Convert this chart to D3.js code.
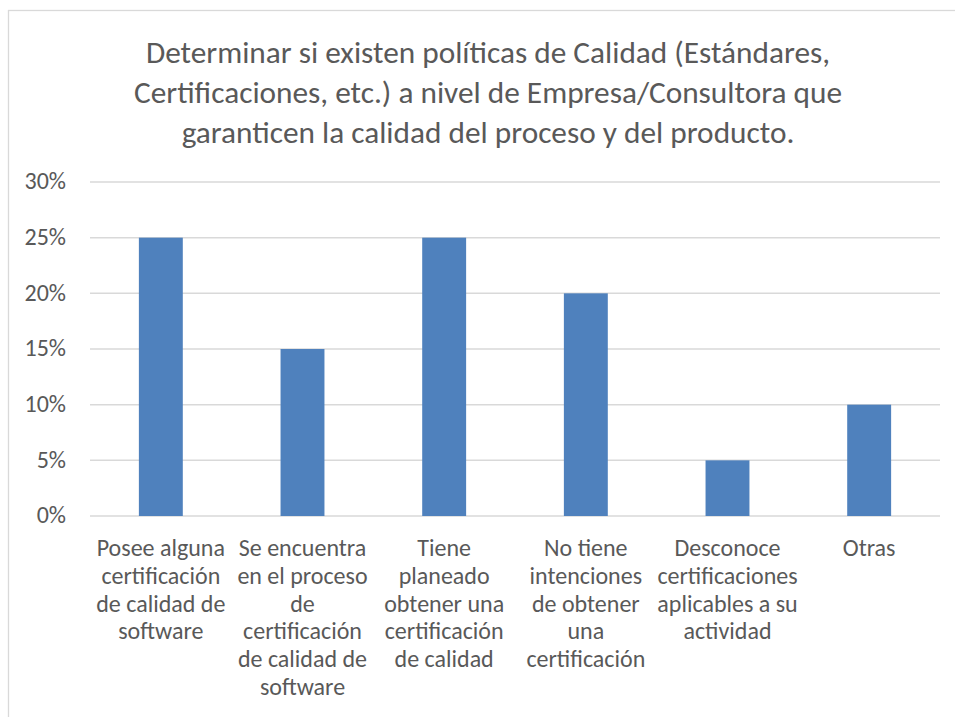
<!DOCTYPE html>
<html>
<head>
<meta charset="utf-8">
<script src="https://cdn.jsdelivr.net/npm/d3@7"></script>
<style>
  body { margin: 0; background: #fff; overflow: hidden; }
  text { font-family: Carlito, Calibri, Lato, sans-serif; fill: #595959; }
</style>
</head>
<body>
<div id="chart"></div>
<script>
// data
let categories = [
    ["Posee alguna", "certificación", "de calidad de", "software"],
    ["Se encuentra", "en el proceso", "de", "certificación", "de calidad de", "software"],
    ["Tiene", "planeado", "obtener una", "certificación", "de calidad"],
    ["No tiene", "intenciones", "de obtener", "una", "certificación"],
    ["Desconoce", "certificaciones", "aplicables a su", "actividad"],
    ["Otras"]
];
let values = [0.25, 0.15, 0.25, 0.20, 0.05, 0.10];
let yTicks = [0, 0.05, 0.10, 0.15, 0.20, 0.25, 0.30];
let titleLines = [
    "Determinar si existen políticas de Calidad (Estándares,",
    "Certificaciones, etc.) a nivel de Empresa/Consultora que",
    "garanticen la calidad del proceso y del producto."
];

let width = 955, height = 717;
let margin = {left: 90, right: 15, top: 182, bottom: 201};

let svg = d3.select("#chart")
    .append("svg")
    .attr("width", width)
    .attr("height", height)
    .style("display", "block");

// chart frame (runs off the right and bottom of the picture)
svg.append("rect")
    .attr("x", 8.5)
    .attr("y", 10.5)
    .attr("width", 980)
    .attr("height", 740)
    .attr("fill", "none")
    .attr("stroke", "#d9d9d9")
    .attr("stroke-width", 1.3);

svg.append("text")
    .attr("text-anchor", "middle")
    .style("font-size", "31.3px")
    .selectAll("tspan")
    .data(titleLines)
    .enter()
    .append("tspan")
    .attr("x", 488)
    .attr("y", (d, i) => 63 + i * 40)
    .text(d => d);

let x = d3.scaleBand()
    .domain(d3.range(categories.length))
    .range([margin.left, width - margin.right])
    .paddingInner(0.69)
    .paddingOuter(0.345);

let y = d3.scaleLinear()
    .domain([0, 0.30])
    .range([height - margin.bottom, margin.top]);

// gridlines
svg.append("g")
    .selectAll("line")
    .data(yTicks)
    .enter()
    .append("line")
    .attr("x1", margin.left)
    .attr("x2", width - margin.right)
    .attr("y1", d => y(d))
    .attr("y2", d => y(d))
    .attr("stroke", "#d9d9d9")
    .attr("stroke-width", 1.5);

let yAxis = svg.append("g")
    .attr("transform", `translate(${margin.left - 24}, 0)`)
    .call(d3.axisLeft(y).tickValues(yTicks).tickFormat(d3.format(".0%")).tickSize(0).tickPadding(0));
yAxis.select(".domain").remove();
yAxis.selectAll("text")
    .style("font-size", "24px")
    .style("font-family", null)
    .attr("dy", "0.28em")
    .attr("fill", "#595959");

svg.append("g")
    .selectAll("rect")
    .data(values)
    .enter()
    .append("rect")
    .attr("x", (d, i) => x(i))
    .attr("y", d => y(d))
    .attr("width", x.bandwidth())
    .attr("height", d => y(0) - y(d))
    .attr("fill", "#4f81bd");

svg.append("g")
    .selectAll("text")
    .data(categories)
    .enter()
    .append("text")
    .attr("text-anchor", "middle")
    .style("font-size", "24px")
    .each(function(lines, i) {
        d3.select(this).selectAll("tspan")
            .data(lines)
            .enter()
            .append("tspan")
            .attr("x", x(i) + x.bandwidth() / 2)
            .attr("y", (d, j) => 556 + j * 27.8)
            .text(d => d);
    });
</script>
</body>
</html>
